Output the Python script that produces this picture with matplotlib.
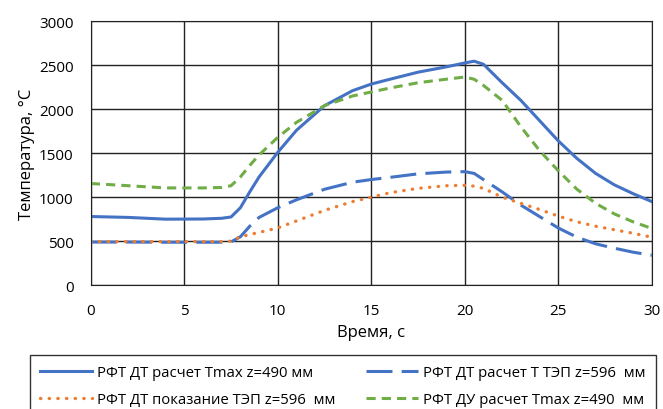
import matplotlib.pyplot as plt

plt.rcParams['font.family'] = ['Open Sans', 'DejaVu Sans']

t = [0, 2, 4, 6, 7, 7.5, 8, 8.5, 9, 10, 11, 12.5, 14, 15, 16, 17.5, 19, 20, 20.5,
     21, 22, 23, 24, 25, 26, 27, 28, 29, 30]

dt_tmax = [780, 770, 750, 752, 760, 775, 880, 1060, 1230, 1510, 1760, 2040, 2210,
           2285, 2340, 2420, 2480, 2525, 2545, 2510, 2300, 2100, 1870, 1640, 1440,
           1270, 1140, 1040, 950]
dt_tep = [490, 490, 488, 488, 488, 492, 550, 670, 770, 880, 970, 1090, 1170, 1200,
          1225, 1265, 1285, 1290, 1270, 1200, 1060, 910, 780, 650, 545, 470, 420,
          375, 340]
dt_meas = [495, 495, 495, 495, 495, 500, 550, 575, 600, 650, 730, 850, 950, 1000,
           1050, 1100, 1130, 1135, 1125, 1100, 1000, 930, 860, 785, 720, 670, 630,
           590, 545]
du_tmax = [1155, 1130, 1105, 1105, 1110, 1130, 1230, 1360, 1480, 1680, 1850, 2040,
           2150, 2195, 2240, 2300, 2340, 2365, 2340, 2270, 2100, 1800, 1530, 1300,
           1090, 930, 810, 720, 645]

labels = ['РФТ ДТ расчет Tmax z=490 мм', 'РФТ ДТ расчет Т ТЭП z=596  мм',
          'РФТ ДТ показание ТЭП z=596  мм', 'РФТ ДУ расчет Tmax z=490  мм']

fig = plt.figure(figsize=(6.63, 4.10), dpi=100)
ax = fig.add_axes([0.137, 0.302, 0.846, 0.644])

l1, = ax.plot(t, dt_tmax, color='#4472C4', lw=2.2)
l2, = ax.plot(t, dt_tep, color='#4472C4', lw=2.2, dashes=(8.5, 3))
l3, = ax.plot(t, dt_meas, color='#ED7D31', lw=2.4, dashes=(0.1, 2.5),
              dash_capstyle='round')
l4, = ax.plot(t, du_tmax, color='#70AD47', lw=2.2, dashes=(3, 2))

ax.set_xlim(0, 30)
ax.set_ylim(0, 3000)
ax.set_xticks(range(0, 31, 5))
ax.set_yticks(range(0, 3001, 500))
ax.grid(True, color='#222222', lw=1)
ax.set_axisbelow(True)
ax.tick_params(length=0, labelsize=11)
ax.tick_params(axis='x', pad=13)
ax.tick_params(axis='y', pad=12.5)
for s in ax.spines.values():
    s.set_color('#222222')
ax.set_xlabel('Время, с', fontsize=12, labelpad=4)
ax.set_ylabel('Температура, °C', fontsize=12, labelpad=3)

# legend order: row-wise like Excel
handles = [l1, l3, l2, l4]
leg_labels = [labels[0], labels[2], labels[1], labels[3]]
fig.legend(handles, leg_labels, loc='upper left', bbox_to_anchor=(0.045, 0.132),
           ncol=2, frameon=True, fancybox=False, edgecolor='black',
           fontsize=10.7, handlelength=3.5, handletextpad=0.3, columnspacing=2.1,
           labelspacing=0.82, borderpad=0.7, borderaxespad=0)

fig.savefig('out.png', dpi=100)
